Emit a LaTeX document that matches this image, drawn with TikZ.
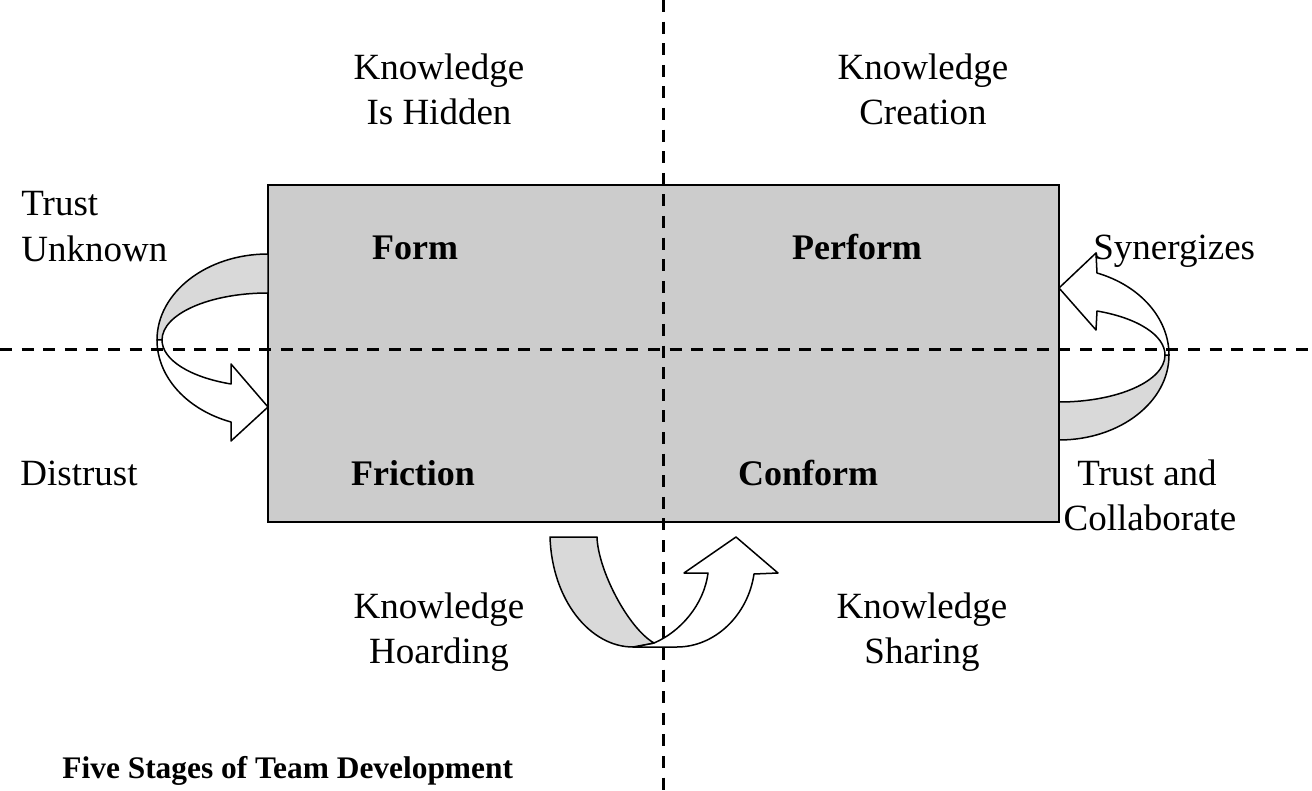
\documentclass[tikz,border=0pt]{standalone}
\usepackage{fontspec}
\setmainfont{Liberation Serif}
\definecolor{boxgrey}{RGB}{204,204,204}
\definecolor{bandgrey}{RGB}{217,217,217}
\begin{document}
\begin{tikzpicture}[x=0.5pt,y=-0.5pt,
  lbl/.style={font=\fontsize{18.5}{22}\selectfont, anchor=base, inner sep=0pt},
  stage/.style={font=\fontsize{18}{22}\selectfont\bfseries, anchor=base, inner sep=0pt},
  title/.style={font=\fontsize{15.7}{19}\selectfont\bfseries, anchor=base west, inner sep=0pt},
  axis/.style={line width=1.5pt, dash pattern=on 6pt off 4.8pt},
  band/.style={draw=black, line width=0.75pt, fill=bandgrey, line join=round},
  front/.style={draw=black, line width=0.75pt, fill=white, line join=round}]

\useasboundingbox (0,0) rectangle (1312,791);

% the four-stage box
\node[draw, line width=0.75pt, fill=boxgrey, inner sep=0pt,
      minimum width=395.5pt, minimum height=168.5pt] (stagebox) at (663.5,353.5) {};

% left turn: Form -> Friction
\draw[band] (268,254) .. controls (206.7,254) and (157,292.5) .. (157,340)
  -- (162,340) .. controls (162,314) and (209.5,293) .. (268,293) -- cycle;
\draw[front] (157,340) .. controls (157,376.8) and (186.7,409.7) .. (231,422)
  -- (231,441) -- (268,407) -- (231,364) -- (231,384)
  .. controls (189.5,377.1) and (162,359.6) .. (162,340) -- cycle;

% right turn: Conform -> Perform
\draw[band] (1059,440) .. controls (1119.8,440) and (1169,402) .. (1169,355)
  -- (1165,355) .. controls (1165,381) and (1117.5,402) .. (1059,402) -- cycle;
\draw[front] (1169,355) .. controls (1169,318.5) and (1140.2,285.6) .. (1097,273)
  -- (1096,253) -- (1059,288) -- (1096,330) -- (1097,311)
  .. controls (1138,318) and (1165,335.5) .. (1165,355) -- cycle;

% bottom turn: Friction -> Conform
\draw[front] (654,643) -- (633,647) -- (677,647)
  .. controls (715,647) and (748,615) .. (754,574)
  -- (778,573) -- (736,537) -- (684,573) -- (708,573)
  .. controls (704,605) and (680,632) .. (654,643) -- cycle;
\draw[band] (550,537) -- (597,537) .. controls (598,570) and (628,628) .. (654,643)
  -- (633,647) .. controls (590,647) and (552,600) .. (550,537) -- cycle;

% dashed axes
\coordinate (vtop) at (663,0);
\coordinate (vbot) at (663,791);
\coordinate (hleft) at (0,349);
\coordinate (hright) at (1312,349);
\draw[axis] (vtop) -- (vbot);
\draw[axis] (hleft) -- (hright);

% labels
\node[lbl] (hid1) at (439,80) {Knowledge};
\node[lbl] (hid2) at (439,125) {Is Hidden};
\node[lbl] (cre1) at (923,80) {Knowledge};
\node[lbl] (cre2) at (923,125) {Creation};
\node[lbl, anchor=base west] (unk1) at (21,216) {Trust};
\node[lbl, anchor=base west] (unk2) at (21,262) {Unknown};
\node[stage] (form) at (415,260) {Form};
\node[stage] (perform) at (857,260) {Perform};
\node[lbl, anchor=base west] (syn) at (1093,260) {Synergizes};
\node[lbl, anchor=base west] (dis) at (20,485) {Distrust};
\node[stage] (friction) at (413,485) {Friction};
\node[stage] (conform) at (808,485) {Conform};
\node[lbl] (col1) at (1147,485) {Trust and};
\node[lbl] (col2) at (1150,530) {Collaborate};
\node[lbl] (hoa1) at (439,618) {Knowledge};
\node[lbl] (hoa2) at (439,663) {Hoarding};
\node[lbl] (sha1) at (922,618) {Knowledge};
\node[lbl] (sha2) at (922,663) {Sharing};
\node[title] (caption) at (62,778) {Five Stages of Team Development};
\end{tikzpicture}
\end{document}
